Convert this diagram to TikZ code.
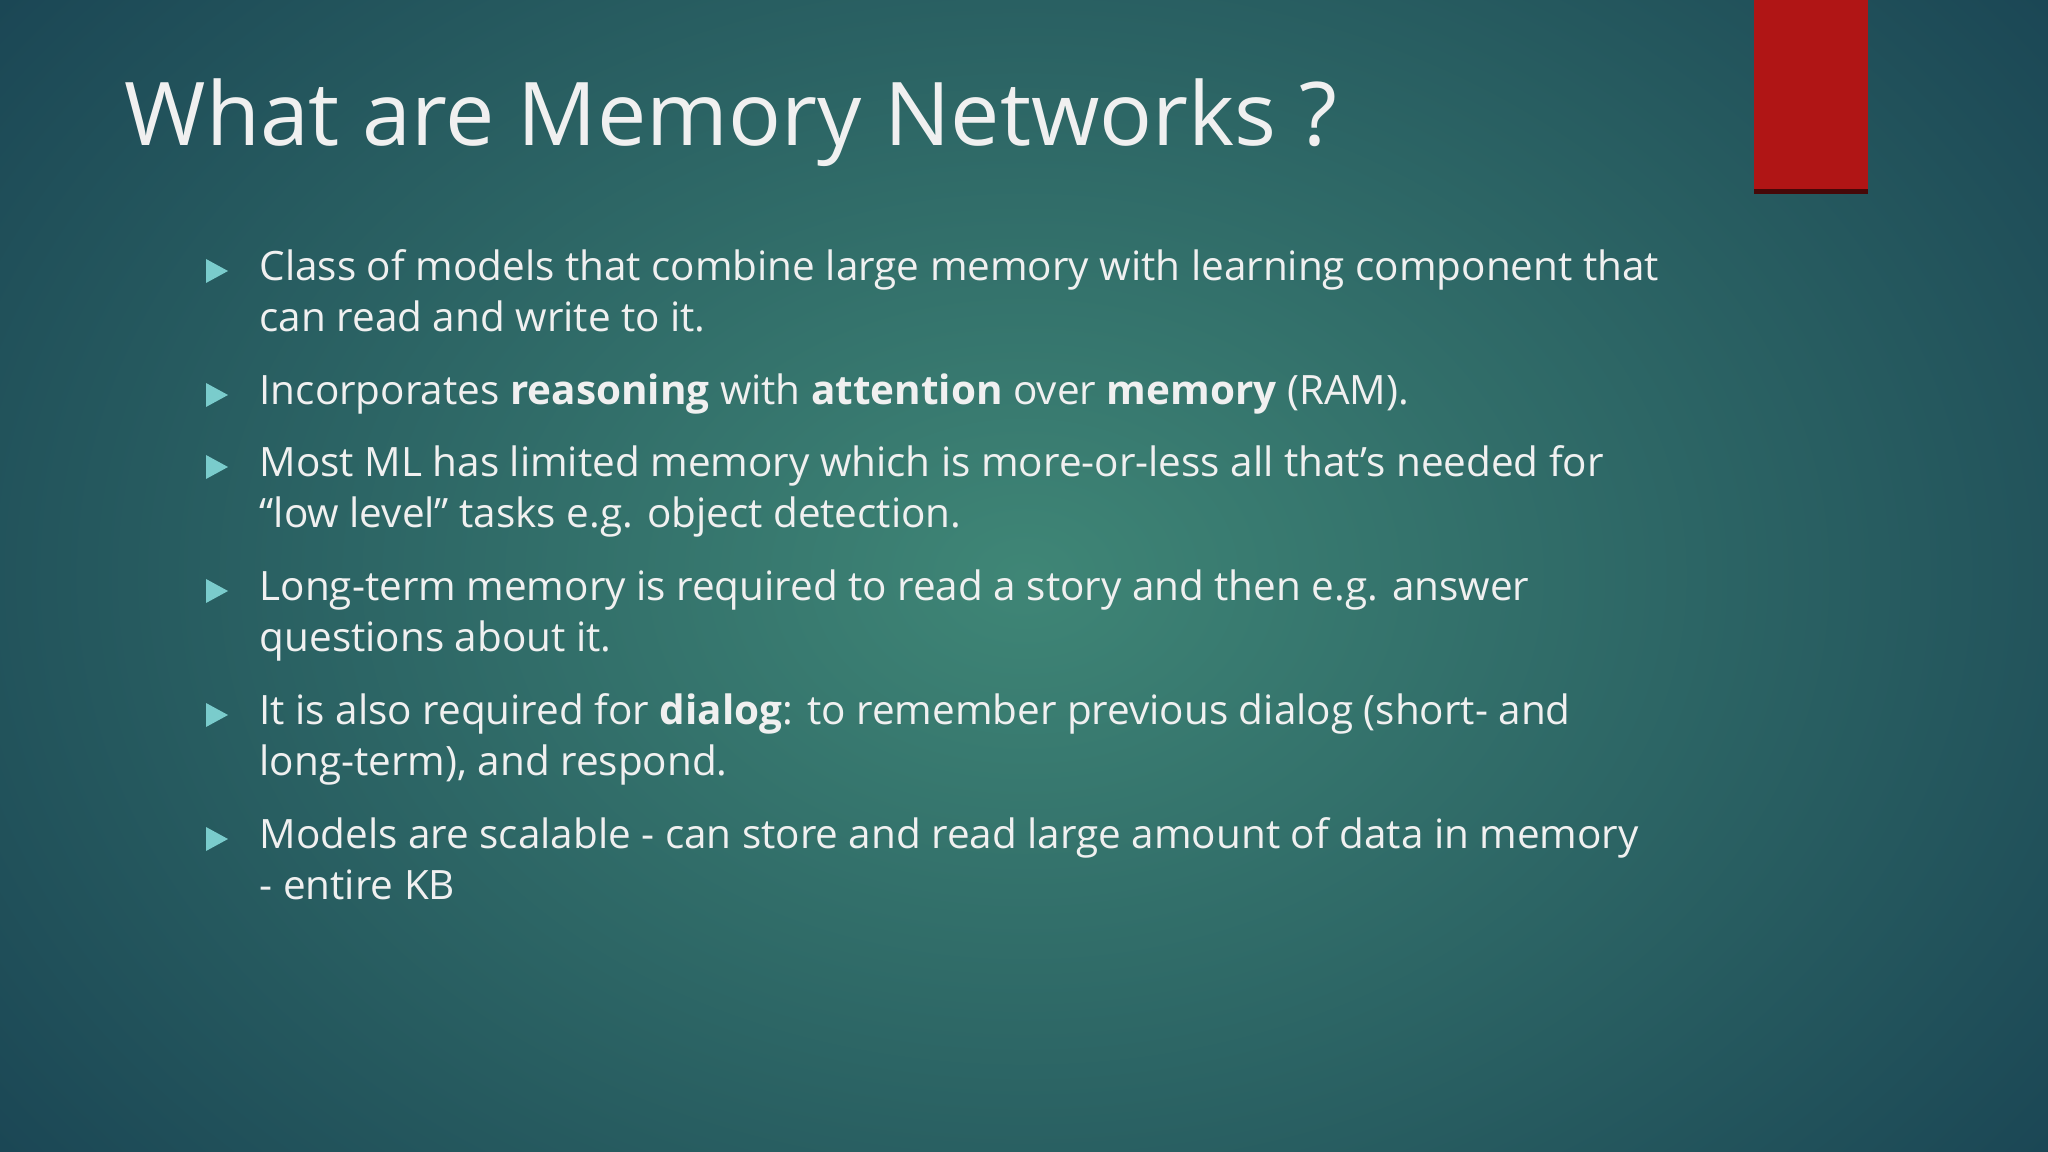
\documentclass[tikz,border=0pt]{standalone}
\usepackage{fontspec}
\setmainfont{Open Sans}
\begin{document}
\begin{tikzpicture}[x=0.01cm,y=-0.01cm,
  txt/.style={anchor=mid west,inner sep=0pt,text=white!94!black,font=\fontsize{11.5pt}{13pt}\selectfont}]
\useasboundingbox (0,0) rectangle (2048,1152);
\definecolor{bgin}{HTML}{3F8676}
\definecolor{bgout}{HTML}{1A4554}
\definecolor{redbox}{HTML}{B01515}
\definecolor{bulc}{HTML}{7ACCCC}
\shade[inner color=bgin,outer color=bgout] (-300,-400) rectangle (2348,1552);
\fill[redbox] (1754,0) rectangle (1868,192);
\fill[black!60!redbox] (1754,189) rectangle (1868,194);
\node[anchor=base west,inner sep=0pt,text=white!94!black,font=\fontsize{25pt}{30pt}\selectfont] (title) at (124,146) {What are Memory Networks ?};
\foreach \y in {271,395,467,591,715,839}{
  \fill[bulc] (206,\y-12) -- (228,\y) -- (206,\y+12) -- cycle;
}
\node[txt] (l1) at (259,271) {Class of models that combine large memory with learning component that};
\node[txt] (l1b) at (259,322) {can read and write to it.};
\node[txt] (l2) at (259,395) {Incorporates \textbf{reasoning} with \textbf{attention} over \textbf{memory} (RAM).};
\node[txt] (l3) at (259,467) {Most ML has limited memory which is more-or-less all that’s needed for};
\node[txt] (l3b) at (259,518) {“low level” tasks e.g. object detection.};
\node[txt] (l4) at (259,591) {Long-term memory is required to read a story and then e.g. answer};
\node[txt] (l4b) at (259,642) {questions about it.};
\node[txt] (l5) at (259,715) {It is also required for \textbf{dialog}: to remember previous dialog (short- and};
\node[txt] (l5b) at (259,766) {long-term), and respond.};
\node[txt] (l6) at (259,839) {Models are scalable - can store and read large amount of data in memory};
\node[txt] (l6b) at (259,890) {- entire KB};
\end{tikzpicture}
\end{document}
